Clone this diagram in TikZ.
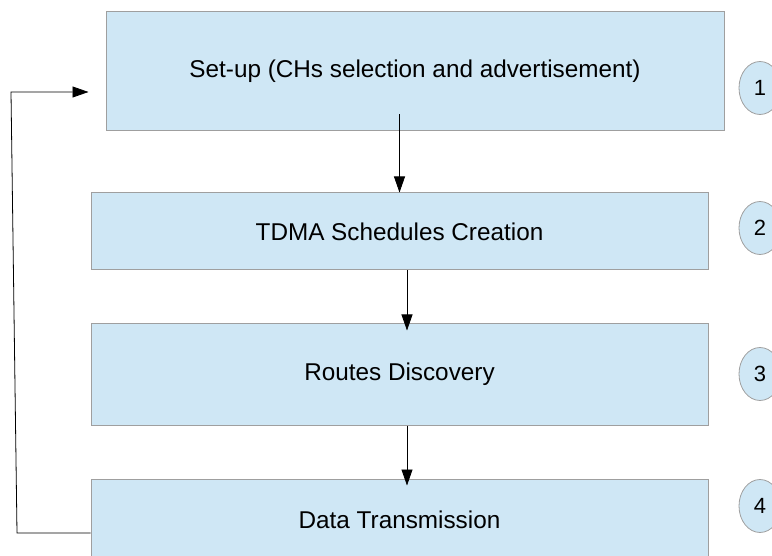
\documentclass[tikz,border=0pt]{standalone}
\usepackage{fontspec}
\setmainfont{Liberation Sans}
\usetikzlibrary{shapes.geometric, arrows.meta}
\definecolor{stagefill}{RGB}{207,231,245}
\tikzstyle{stage} = [rectangle, minimum width=617pt, text centered, draw=gray!75, line width=1pt, fill=stagefill, font=\fontsize{24.3}{28}\selectfont]
\tikzstyle{num} = [ellipse, minimum width=42pt, minimum height=53pt, inner sep=0pt, draw=gray!75, line width=0.8pt, fill=stagefill, font=\fontsize{22}{26}\selectfont]
\tikzstyle{arrow} = [line width=0.8pt, -{Triangle[length=16pt, width=11pt]}]

\begin{document}
\begin{tikzpicture}[x=1pt, y=-1pt, node distance=145pt]
        \useasboundingbox (0,0) rectangle (772,556);
        \node (setup) [stage, minimum width=618pt, minimum height=119pt] at (415,71.5) {Set-up (CHs selection and advertisement)};
        \node (tdma) [stage, minimum height=77pt, below of=setup, xshift=-15.5pt, yshift=-15pt] {TDMA Schedules Creation};
        \node (routes) [stage, minimum height=101pt, below of=tdma, yshift=2pt] {Routes Discovery};
        \node (data) [stage, minimum height=82pt, below of=routes, yshift=-0.5pt] {Data Transmission};
        \node (n1) [num] at (760,88) {1};
        \node (n2) [num] at (760,228) {2};
        \node (n3) [num] at (760,374) {3};
        \node (n4) [num] at (760,506) {4};
        \coordinate (loopbot) at (17,533);
        \coordinate (looptop) at (11,92);
        \draw [arrow] ([yshift=17pt]setup.south -| tdma.north) -- (tdma.north);
        \draw [arrow] ([xshift=7.5pt]tdma.south) -- ([xshift=7.5pt, yshift=-7pt]routes.north);
        \draw [arrow] ([xshift=7.5pt]routes.south) -- ([xshift=7.5pt, yshift=-7pt]data.north);
        \draw [arrow] ([yshift=-13pt]data.west) -- (loopbot) -- (looptop) -- ([xshift=-17pt, yshift=-20.5pt]setup.west);
      \end{tikzpicture}
\end{document}
